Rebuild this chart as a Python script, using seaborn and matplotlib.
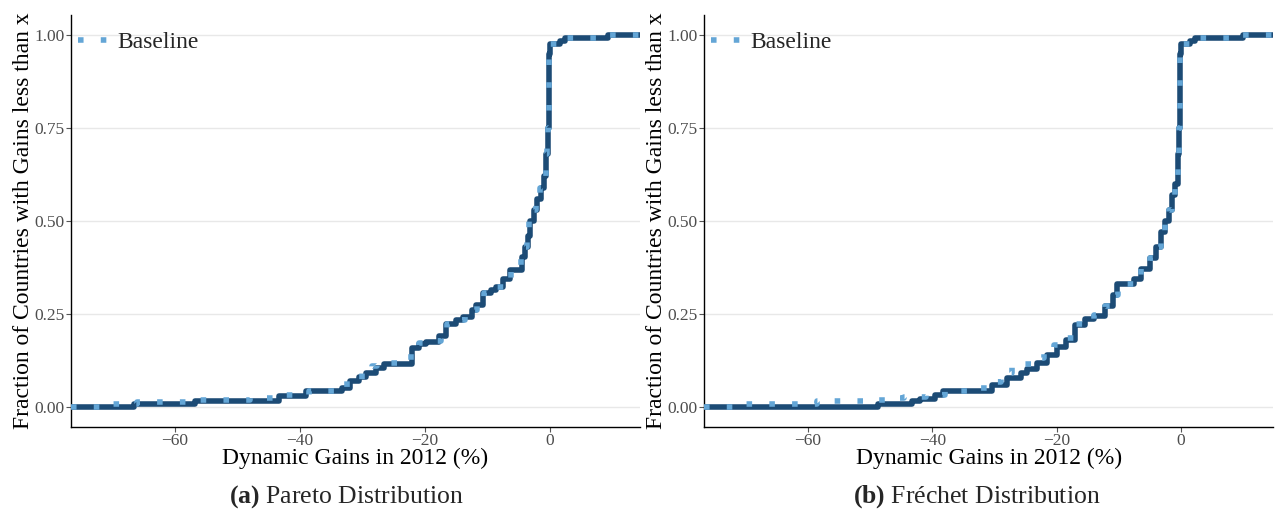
import numpy as np
import matplotlib
matplotlib.use("Agg")
import matplotlib.pyplot as plt
from matplotlib.lines import Line2D
import seaborn as sns

# ---------------- data ----------------
pareto_gain = [-66.6, -56.7, -43.3, -39.0, -33.2, -32.0, -30.5, -29.4, -27.8, -26.5,
               -22.0, -21.0, -19.8, -17.7, -16.6, -15.0, -13.9, -12.5, -11.8, -10.7,
               -9.5, -8.6, -7.5, -6.4, -4.5, -4.0, -3.5, -3.2, -2.6, -2.1,
               -1.5, -1.0, -0.6, -0.4, -0.3, -0.2, -0.1, 0.0, 1.6, 2.4, 9.3]
pareto_cdf = [0.007, 0.014, 0.028, 0.041, 0.05, 0.068, 0.08, 0.091, 0.104, 0.115,
              0.158, 0.168, 0.175, 0.189, 0.222, 0.232, 0.242, 0.26, 0.273, 0.305,
              0.314, 0.321, 0.345, 0.367, 0.403, 0.43, 0.46, 0.50, 0.53, 0.56,
              0.59, 0.62, 0.68, 0.72, 0.75, 0.85, 0.95, 0.976, 0.986, 0.993, 1.0]

pareto_base_gain = [-70.6, -66.0, -57.5, -48.0, -43.0, -38.5, -33.5, -32.5, -30.0, -28.5,
                    -27.6, -23.0, -22.3, -21.0, -19.5, -17.5, -16.4, -14.8, -13.6, -12.3,
                    -11.6, -10.5, -9.3, -8.4, -7.3, -6.2, -4.6, -4.1, -3.6, -3.3,
                    -2.7, -2.2, -1.6, -1.1, -0.7, -0.45, -0.3, -0.2, -0.1, 0.0,
                    1.2, 2.6, 8.5]
pareto_base_cdf = [0.007, 0.012, 0.018, 0.022, 0.03, 0.042, 0.05, 0.07, 0.09, 0.11,
                   0.118, 0.125, 0.16, 0.17, 0.178, 0.19, 0.222, 0.232, 0.244, 0.26,
                   0.275, 0.305, 0.315, 0.322, 0.345, 0.368, 0.40, 0.43, 0.46, 0.50,
                   0.53, 0.56, 0.59, 0.62, 0.68, 0.72, 0.75, 0.85, 0.95, 0.976,
                   0.986, 0.993, 1.0]

frechet_gain = [-48.8, -43.2, -41.9, -39.5, -38.2, -30.4, -28.0, -25.8, -24.8, -23.2,
                -21.5, -20.0, -18.5, -17.0, -15.5, -14.0, -12.2, -11.0, -10.3, -7.5,
                -6.5, -5.0, -4.0, -3.3, -2.6, -2.0, -1.4, -0.9, -0.5, -0.3,
                -0.2, -0.1, 0.0, 1.5, 2.2, 10.0]
frechet_cdf = [0.008, 0.014, 0.02, 0.03, 0.041, 0.059, 0.077, 0.09, 0.10, 0.118,
               0.14, 0.16, 0.18, 0.22, 0.235, 0.245, 0.27, 0.30, 0.33, 0.345,
               0.37, 0.40, 0.43, 0.47, 0.50, 0.53, 0.57, 0.60, 0.68, 0.75,
               0.85, 0.95, 0.976, 0.986, 0.993, 1.0]

frechet_base_gain = [-71.9, -58.5, -48.8, -46.5, -44.6, -41.0, -38.0, -33.0, -30.7, -29.0,
                     -27.2, -23.8, -22.0, -20.5, -19.0, -17.0, -15.5, -14.0, -12.3, -11.0,
                     -10.2, -7.6, -6.5, -5.0, -4.0, -3.3, -2.6, -2.0, -1.4, -0.9,
                     -0.5, -0.3, -0.2, -0.1, 0.0, 1.4, 2.4, 9.5]
frechet_base_cdf = [0.007, 0.014, 0.018, 0.022, 0.025, 0.03, 0.043, 0.05, 0.065, 0.09,
                    0.115, 0.13, 0.15, 0.165, 0.185, 0.222, 0.237, 0.246, 0.27, 0.30,
                    0.33, 0.345, 0.37, 0.40, 0.43, 0.47, 0.50, 0.53, 0.57, 0.60,
                    0.68, 0.75, 0.85, 0.95, 0.976, 0.986, 0.993, 1.0]

x_ticks = [-60, -40, -20, 0]
y_ticks = [0.00, 0.25, 0.50, 0.75, 1.00]
x_label = "Dynamic Gains in 2012 (%)"
y_label = "Fraction of Countries with Gains less than x"
legend_label = "Baseline"
captions = [("(a)", "Pareto Distribution"), ("(b)", "Fréchet Distribution")]

# ---------------- style ----------------
sns.set_theme(style="white")
serif = ["Liberation Serif", "DejaVu Serif"]
plt.rcParams["font.family"] = serif
plt.rcParams["mathtext.fontset"] = "custom"
plt.rcParams["mathtext.rm"] = "Liberation Serif"
plt.rcParams["mathtext.bf"] = "Liberation Serif:bold"

DARK = "#1c4b75"
LIGHT = "#64a6d6"
LW = 4.0
DOT = (0, (1, 3.1))

fig = plt.figure(figsize=(12.75, 5.11), dpi=100)

panels = [
    (0.0557, (pareto_gain, pareto_cdf), (pareto_base_gain, pareto_base_cdf), (-76.6, 14.4)),
    (0.5522, (frechet_gain, frechet_cdf), (frechet_base_gain, frechet_base_cdf), (-76.7, 14.8)),
]
ax_w = 0.4463
ax_b = 0.1644
ax_h = 0.9706 - 0.1644

for i, (left, solid, base, xlim) in enumerate(panels):
    ax = fig.add_axes([left, ax_b, ax_w, ax_h])
    g, c = solid
    w = np.diff(np.r_[0.0, c])
    sns.ecdfplot(x=np.array(g), weights=w, ax=ax, color=DARK, lw=LW,
                 solid_capstyle="round", solid_joinstyle="round", zorder=2)
    g, c = base
    w = np.diff(np.r_[0.0, c])
    sns.ecdfplot(x=np.array(g), weights=w, ax=ax, color=LIGHT, lw=LW,
                 linestyle=DOT, dash_capstyle="butt", zorder=3)
    ax.set_xlim(*xlim)
    ax.set_ylim(-0.055, 1.055)
    # pad the ECDF lines to the panel edges (as ggplot's stat_ecdf does)
    for ln in ax.lines:
        xd = np.asarray(ln.get_xdata(), dtype=float)
        yd = np.asarray(ln.get_ydata(), dtype=float)
        xd = np.r_[xlim[0], xd[1:], xlim[1]]
        yd = np.r_[0.0, yd[1:], yd[-1]]
        ln.set_data(xd, yd)

    ax.set_xticks(x_ticks)
    ax.set_xticklabels(["\u2212" + str(abs(t)) if t < 0 else str(t) for t in x_ticks])
    ax.set_yticks(y_ticks)
    ax.set_yticklabels([f"{t:.2f}" for t in y_ticks])
    ax.tick_params(axis="both", which="major", labelsize=12.5, colors="#555555",
                   length=3.5, width=0.8, direction="out", bottom=True, left=True, pad=1)
    for lab in ax.get_xticklabels() + ax.get_yticklabels():
        lab.set_color("#4d4d4d")
    ax.yaxis.grid(True, color="#e8e8e8", lw=1.0)
    ax.xaxis.grid(False)
    ax.set_axisbelow(True)
    for s in ["top", "right"]:
        ax.spines[s].set_visible(False)
    for s in ["left", "bottom"]:
        ax.spines[s].set_color("black")
        ax.spines[s].set_linewidth(1.0)
    ax.set_xlabel(x_label, fontsize=17, color="black", labelpad=-1)
    ax.set_ylabel(y_label, fontsize=17, color="black", labelpad=0.5)

    handle = Line2D([], [], color=LIGHT, lw=LW, linestyle=DOT, dash_capstyle="butt")
    ax.legend([handle], [legend_label], loc="upper left", bbox_to_anchor=(-0.012, 0.995),
              frameon=False, fontsize=17, handlelength=1.2, handletextpad=0.45,
              borderaxespad=0.2)

    tag, name = captions[i]
    cx = [0.2715, 0.7665][i]
    fig.text(cx, 0.016, r"$\mathbf{" + tag + r"}$ " + name, ha="center", va="baseline",
             fontsize=18.5)

fig.savefig("out.png", dpi=100)
